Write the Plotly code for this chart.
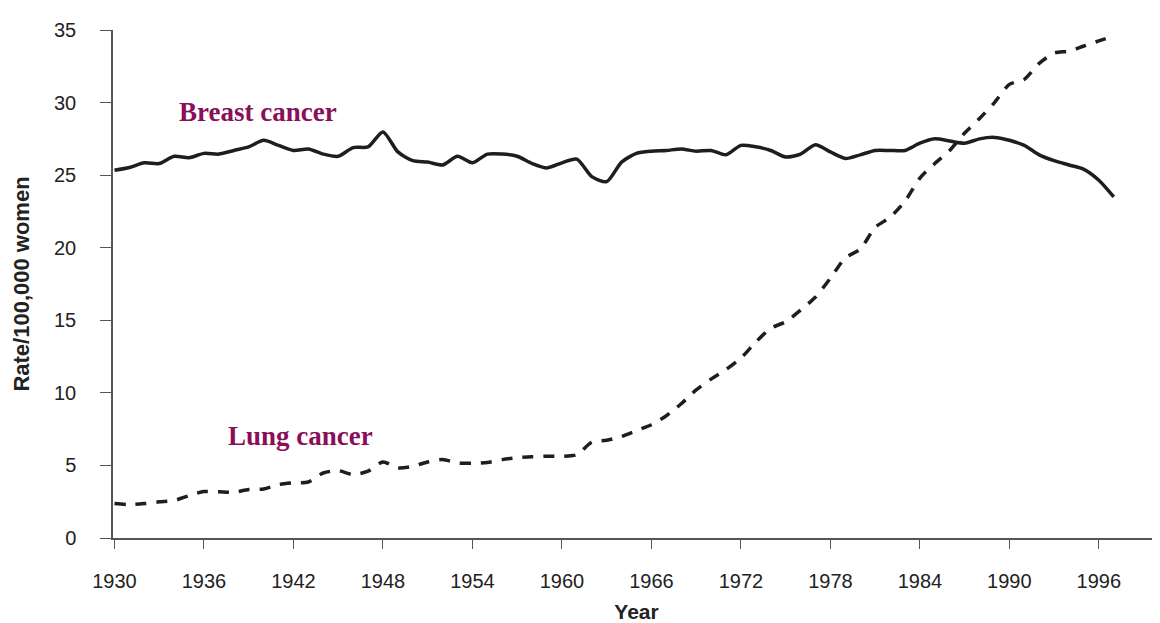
import plotly.graph_objects as go

years = list(range(1930, 1998))

breast = [25.34, 25.53, 25.85, 25.8, 26.3, 26.2, 26.5, 26.45, 26.7, 26.95,
          27.4, 27.05, 26.7, 26.8, 26.45, 26.3, 26.9, 26.95, 27.98, 26.6,
          26.0, 25.9, 25.7, 26.3, 25.85, 26.45, 26.45, 26.3, 25.8, 25.5,
          25.85, 26.1, 24.9, 24.55, 25.9, 26.5, 26.65, 26.7, 26.8, 26.65,
          26.7, 26.4, 27.05, 26.95, 26.7, 26.25, 26.45, 27.1, 26.6, 26.15,
          26.4, 26.7, 26.7, 26.7, 27.2, 27.5, 27.35, 27.2, 27.5, 27.6,
          27.4, 27.05, 26.4, 26.0, 25.7, 25.4, 24.65, 23.5]

lung = [2.37, 2.3, 2.37, 2.49, 2.58, 2.92, 3.2, 3.18, 3.15, 3.34,
        3.38, 3.68, 3.8, 3.86, 4.48, 4.64, 4.37, 4.6, 5.24, 4.83,
        4.94, 5.24, 5.4, 5.17, 5.15, 5.2, 5.4, 5.53, 5.6, 5.63,
        5.63, 5.74, 6.6, 6.73, 7.0, 7.4, 7.8, 8.42, 9.25, 10.2,
        10.95, 11.6, 12.4, 13.5, 14.45, 14.9, 15.7, 16.6, 17.9, 19.3,
        19.9, 21.4, 22.1, 23.2, 24.8, 25.8, 26.7, 27.9, 28.9, 30.0,
        31.25, 31.6, 32.7, 33.4, 33.55, 33.9, 34.25, 34.6]

x_ticks = list(range(1930, 1997, 6))
y_ticks = [0, 5, 10, 15, 20, 25, 30, 35]

series_labels = ["Breast cancer", "Lung cancer"]
label_pos = [(1939.6, 29.35), (1942.5, 7.05)]

purple = "#8A0F58"

fig = go.Figure()
fig.add_trace(go.Scatter(x=years, y=breast, mode="lines", name=series_labels[0],
                         line=dict(color="#1e1e1e", width=3.5, shape="spline", smoothing=0.7)))
fig.add_trace(go.Scatter(x=years, y=lung, mode="lines", name=series_labels[1],
                         line=dict(color="#1e1e1e", width=3.5, shape="spline", smoothing=0.7,
                                   dash="11px,10px")))

for txt, (xv, yv) in zip(series_labels, label_pos):
    fig.add_annotation(x=xv, y=yv, xref="x", yref="y", text="<b>" + txt + "</b>",
                       showarrow=False, xanchor="center", yanchor="middle",
                       font=dict(family="Liberation Serif", size=27, color=purple))

# page body adds an 8px offset, so the figure is sized 8px smaller
fig.update_layout(
    width=1152, height=615,
    margin=dict(l=105, r=0, t=22, b=84.5),
    paper_bgcolor="white", plot_bgcolor="white",
    showlegend=False,
    font=dict(family="Liberation Sans", size=20, color="#222"),
)
fig.update_xaxes(
    range=[1929.9, 2000.1], tickvals=x_ticks, ticktext=[str(v) for v in x_ticks],
    showgrid=False, zeroline=False, showline=True, linecolor="#555", linewidth=1.5,
    ticks="outside", ticklen=9, tickwidth=1.2, tickcolor="#555",
    ticklabelstandoff=15,
    title=dict(text="<b>Year</b>", font=dict(family="Liberation Sans", size=21, color="#222"),
               standoff=16),
)
fig.update_yaxes(
    range=[0, 35], tickvals=y_ticks,
    showgrid=False, zeroline=False, showline=True, linecolor="#555", linewidth=1.5,
    ticks="outside", ticklen=11, tickwidth=1.2, tickcolor="#555",
    ticklabelstandoff=20,
    title=dict(text="<b>Rate/100,000 women</b>", font=dict(family="Liberation Sans", size=22, color="#222"),
               standoff=18),
)

fig.write_html("out.html")
